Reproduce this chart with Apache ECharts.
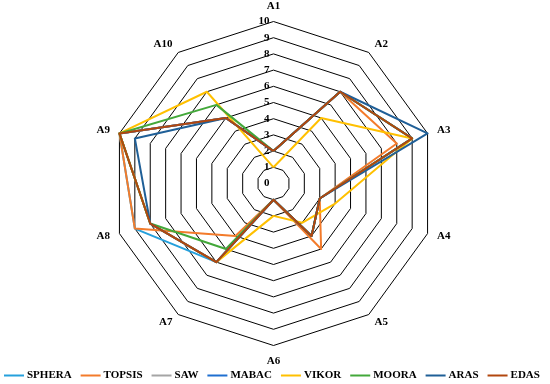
<!DOCTYPE html>
<html><head><meta charset="utf-8">
<script src="https://cdn.jsdelivr.net/npm/echarts@6/dist/echarts.min.js"></script>
<style>html,body{margin:0;padding:0;background:#fff}#c{width:550px;height:384px}</style>
</head><body><div id="c"></div>
<script>
const categories = ['A1','A2','A3','A4','A5','A6','A7','A8','A9','A10'];
const tickLabels = ['0','1','2','3','4','5','6','7','8','9','10'];
const seriesNames = ['SPHERA','TOPSIS','SAW','MABAC','VIKOR','MOORA','ARAS','EDAS'];
const SPHERA = [2,7,9,3,4,1,6,9,10,5];
const TOPSIS = [2,7,8,3,5,1,4,9,10,5];
const SAW    = [2,7,9,3,4,1,6,8,10,5];
const MABAC  = [2,7,9,3,4,1,6,8,10,5];
const VIKOR  = [1,5,9,4,3,2,6,8,10,7];
const MOORA  = [2,7,9,3,4,1,5,8,10,6];
const ARAS   = [2,7,10,3,4,1,6,8,9,5];
const EDAS   = [2,7,9,3,4,1,6,8,10,5];
const values = [SPHERA,TOPSIS,SAW,MABAC,VIKOR,MOORA,ARAS,EDAS];
const colors = ['#25a0dc','#f37b2b','#a5a5a5','#1f6fd0','#ffc000','#43a83a','#1f5f97','#b2470e'];

// ECharts radar runs counter-clockwise; reorder so the chart reads clockwise
const order = [0,9,8,7,6,5,4,3,2,1];
const cw = arr => order.map(i => arr[i]);

const font = '"Liberation Serif","Times New Roman",serif';
const chart = echarts.init(document.getElementById('c'));
chart.setOption({
  animation:false,
  color: colors,
  legend:{
    data: seriesNames, bottom: 3, left: 4, padding: 0, itemWidth: 20, itemHeight: 2, itemGap: 9,
    icon: 'rect',
    textStyle:{fontFamily:font, fontWeight:'bold', fontSize:11, color:'#000', padding:[0,0,0,-2]}
  },
  radar:{
    center:[273.5,183.5], radius:162, startAngle:90, shape:'polygon', splitNumber:10,
    indicator: cw(categories).map(n=>({name:n, min:0, max:10})),
    axisName:{color:'#000', fontFamily:font, fontWeight:'bold', fontSize:11},
    nameGap: 10,
    axisLine:{show:false}, axisTick:{show:false},
    splitLine:{lineStyle:{color:'#000', width:1}},
    splitArea:{show:false}
  },
  polar:{center:[273.5,183.5], radius:162},
  angleAxis:{type:'value', min:0, max:360, startAngle:90, show:false},
  radiusAxis:{type:'value', min:0, max:10, interval:1,
    axisLine:{show:false}, axisTick:{show:false}, splitLine:{show:false},
    axisLabel:{color:'#000', fontFamily:font, fontWeight:'bold', fontSize:11, margin:4,
      formatter:(v)=>tickLabels[v]}
  },
  series:[{
    type:'radar', symbol:'none',
    data: seriesNames.map((n,i)=>({name:n, value:cw(values[i]),
      lineStyle:{width:2, color:colors[i]}, itemStyle:{color:colors[i]}}))
  }]
});
</script></body></html>
